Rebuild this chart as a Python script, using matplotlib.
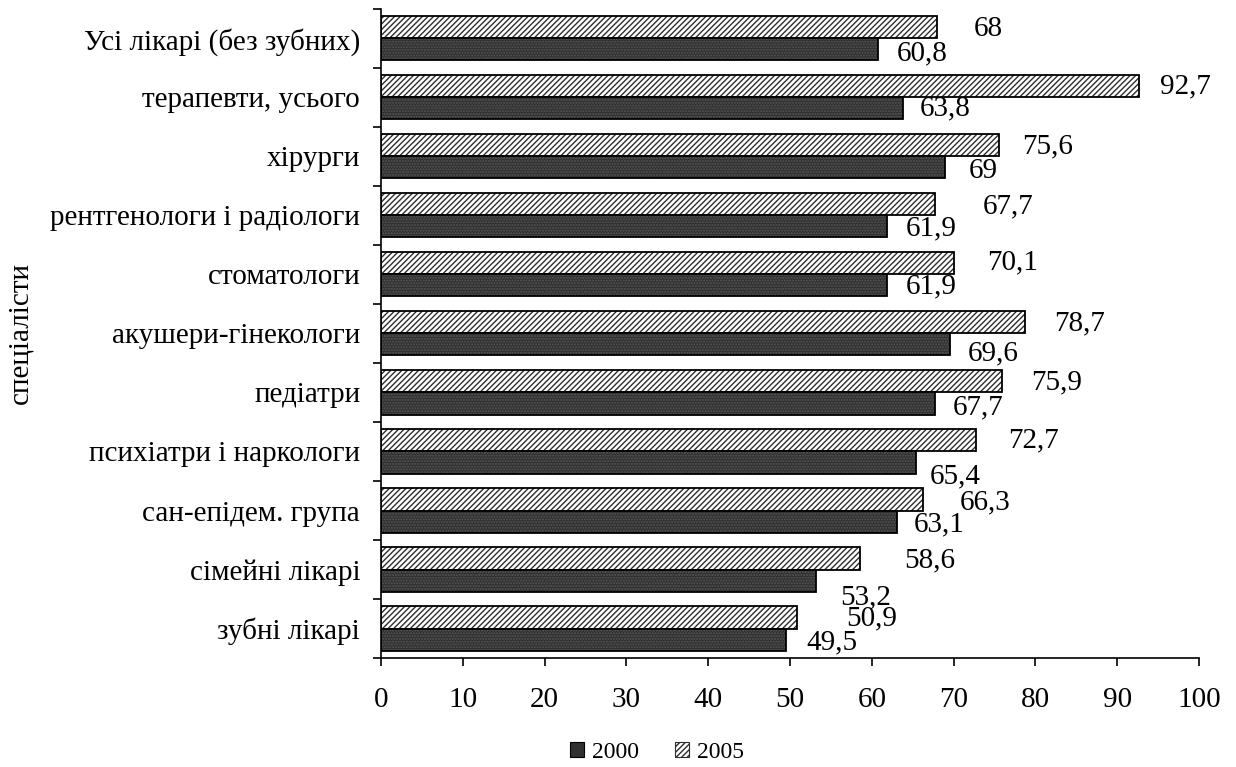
import matplotlib
matplotlib.use("Agg")
import matplotlib.pyplot as plt
from matplotlib.patches import Patch
import numpy as np

plt.rcParams["font.family"] = ["Liberation Serif", "DejaVu Serif"]
plt.rcParams["hatch.linewidth"] = 1.0

specialists = [
    "Усі лікарі (без зубних)",
    "терапевти, усього",
    "хірурги",
    "рентгенологи і радіологи",
    "стоматологи",
    "акушери-гінекологи",
    "педіатри",
    "психіатри і наркологи",
    "сан-епідем. група",
    "сімейні лікарі",
    "зубні лікарі",
]
y2000 = [60.8, 63.8, 69, 61.9, 61.9, 69.6, 67.7, 65.4, 63.1, 53.2, 49.5]
y2005 = [68, 92.7, 75.6, 67.7, 70.1, 78.7, 75.9, 72.7, 66.3, 58.6, 50.9]

# label nudges in pixels (right, down) relative to the bar end
nudge2005 = [(36, 2), (21, 0), (23, 1), (48, 2), (33, -1), (29, 1),
             (29, 1), (32, 0), (36, 3), (44, 2), (49, 1)]
nudge2000 = [(18, 4), (17, 0), (23, 4), (18, 2), (18, 1), (17, 9),
             (18, 4), (14, 14), (17, 3), (24, 17), (20, 3)]

DARK = "#303030"
FS = 21

fig = plt.figure(figsize=(12.36, 7.67), dpi=100)
ax = fig.add_axes([0.3083, 0.1421, 0.6618, 0.8462])

pos = np.arange(len(specialists))
h = 0.373

# 2005: white bars with dense diagonal hatching
ax.barh(pos - h / 2, y2005, height=h, color="white", edgecolor="#2e2e2e",
        hatch="//////", linewidth=0)
ax.barh(pos - h / 2, y2005, height=h, color="none", edgecolor="black",
        linewidth=1.3)
# 2000: dark bars with a fine dotted texture
ax.barh(pos + h / 2, y2000, height=h, color=DARK, edgecolor="#575757",
        hatch="......", linewidth=0)
ax.barh(pos + h / 2, y2000, height=h, color="none", edgecolor="black",
        linewidth=1.3)

for i, v in enumerate(y2005):
    dx, dy = nudge2005[i]
    ax.annotate(f"{v:g}".replace(".", ","), xy=(v, pos[i] - h / 2),
                xytext=(dx, -dy), textcoords="offset pixels",
                ha="left", va="center", fontsize=FS, annotation_clip=False)
for i, v in enumerate(y2000):
    dx, dy = nudge2000[i]
    ax.annotate(f"{v:g}".replace(".", ","), xy=(v, pos[i] + h / 2),
                xytext=(dx, -dy), textcoords="offset pixels",
                ha="left", va="center", fontsize=FS, annotation_clip=False)

ax.set_xlim(0, 100)
ax.set_ylim(len(specialists) - 0.5, -0.5)
ax.set_xticks(np.arange(0, 101, 10))
ax.tick_params(axis="x", labelsize=FS, length=6, width=1.2, pad=15,
               direction="out")

ax.set_yticks(pos)
ax.set_yticklabels(specialists)
ax.set_yticks(np.arange(-0.5, len(specialists)), minor=True)
ax.tick_params(axis="y", which="major", length=0, labelsize=FS, pad=15)
ax.tick_params(axis="y", which="minor", length=6, width=1.2, direction="out")

for side in ("top", "right"):
    ax.spines[side].set_visible(False)
for side in ("left", "bottom"):
    ax.spines[side].set_linewidth(1.2)

fig.text(20 / 1236, 1 - 333 / 767, "спеціалісти", rotation=90,
         ha="center", va="center", fontsize=FS)

handles = [
    Patch(facecolor=DARK, edgecolor="black", linewidth=0.8, label="2000"),
    Patch(facecolor="white", edgecolor="#2e2e2e", hatch="//////",
          linewidth=0.8, label="2005"),
]
fig.legend(handles=handles, loc="center", bbox_to_anchor=(0.5316, 0.0195),
           ncol=2, frameon=False, fontsize=17, handlelength=0.6,
           handleheight=0.6, handletextpad=0.35, columnspacing=1.5)

fig.savefig("out.png", dpi=100)
